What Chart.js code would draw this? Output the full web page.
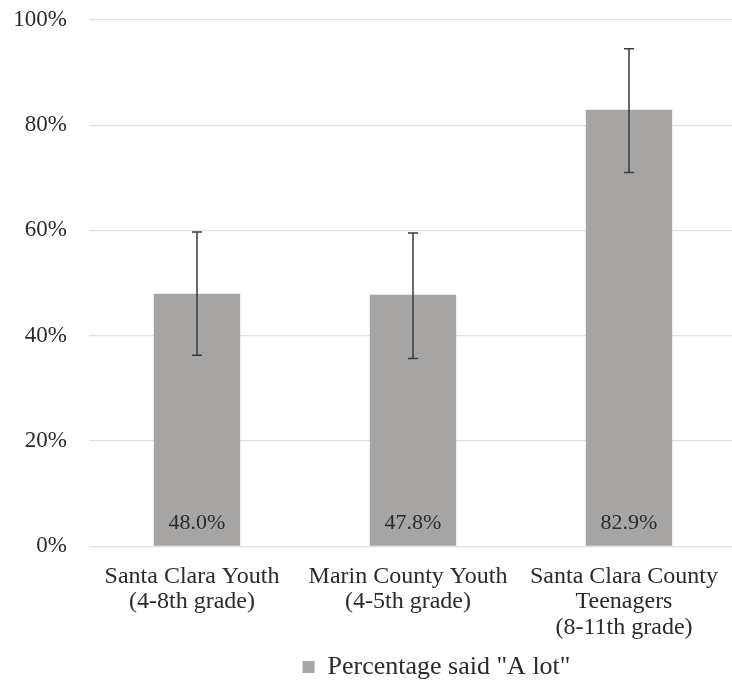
<!DOCTYPE html>
<html>
<head>
<meta charset="utf-8">
<script src="https://cdn.jsdelivr.net/npm/chart.js@4.4.0/dist/chart.umd.min.js"></script>
<style>
html,body{margin:0;padding:0;background:#fff;overflow:hidden;}
#wrap{width:737px;height:706px;position:relative;top:-16px;}
</style>
</head>
<body>
<div id="wrap"><canvas id="c"></canvas></div>
<script>
const categories = [
  ["Santa Clara Youth", "(4-8th grade)"],
  ["Marin County Youth", "(4-5th grade)"],
  ["Santa Clara County", "Teenagers", "(8-11th grade)"]
];
const values = [48.0, 47.8, 82.9];
const errLow = [36.3, 35.7, 71.0];
const errHigh = [59.7, 59.5, 94.5];
const valueLabels = ["48.0%", "47.8%", "82.9%"];
const seriesName = 'Percentage said "A lot"';

const FONT = "'Liberation Serif', 'Times New Roman', serif";
const FS = 24;

const errorBars = {
  id: 'errorBars',
  afterLayout(chart) {
    if (chart.legend) { chart.legend.left += 68; chart.legend.right += 68; }
  },
  afterDatasetsDraw(chart) {
    const ctx = chart.ctx;
    const meta = chart.getDatasetMeta(0);
    const y = chart.scales.y;
    ctx.save();
    ctx.fillStyle = '#2a2a2a';
    ctx.font = '22px ' + FONT;
    ctx.textAlign = 'center';
    ctx.textBaseline = 'middle';
    meta.data.forEach((bar, i) => {
      ctx.fillText(valueLabels[i], bar.x, y.getPixelForValue(0) - 23);
    });
    ctx.strokeStyle = '#3a3a3a';
    ctx.lineWidth = 1.5;
    meta.data.forEach((bar, i) => {
      const yl = y.getPixelForValue(errLow[i]);
      const yh = y.getPixelForValue(errHigh[i]);
      ctx.beginPath();
      ctx.moveTo(bar.x, yl); ctx.lineTo(bar.x, yh);
      ctx.moveTo(bar.x - 5, yl); ctx.lineTo(bar.x + 5, yl);
      ctx.moveTo(bar.x - 5, yh); ctx.lineTo(bar.x + 5, yh);
      ctx.stroke();
    });
    ctx.restore();
  }
};

new Chart(document.getElementById('c'), {
  type: 'bar',
  data: {
    labels: categories,
    datasets: [{
      label: seriesName,
      data: values,
      backgroundColor: '#a7a4a4',
      barPercentage: 0.4,
      categoryPercentage: 1.0
    }]
  },
  options: {
    responsive: true,
    maintainAspectRatio: false,
    animation: false,
    layout: { padding: { top: 0, left: 0, right: 0, bottom: 0 } },
    plugins: {
      legend: {
        position: 'bottom',
        labels: {
          font: { family: FONT, size: 26 },
          color: '#2a2a2a',
          boxWidth: 12,
          boxHeight: 12,
          padding: 4
        }
      },
      tooltip: { enabled: false }
    },
    scales: {
      x: {
        grid: { display: false },
        border: { display: false },
        ticks: {
          font: { family: FONT, size: FS, lineHeight: 1.05 },
          color: '#2a2a2a',
          maxRotation: 0,
          autoSkip: false,
          labelOffset: -5,
          padding: 10
        }
      },
      y: {
        min: 0, max: 100,
        afterFit: s => { s.width = 89; },
        grid: { color: '#e2dede', lineWidth: 1.2, drawTicks: false },
        border: { display: false },
        ticks: {
          stepSize: 20,
          padding: 22,
          font: { family: FONT, size: 23 },
          color: '#2a2a2a',
          callback: v => v + '%'
        }
      }
    }
  },
  plugins: [errorBars]
});
</script>
</body>
</html>
